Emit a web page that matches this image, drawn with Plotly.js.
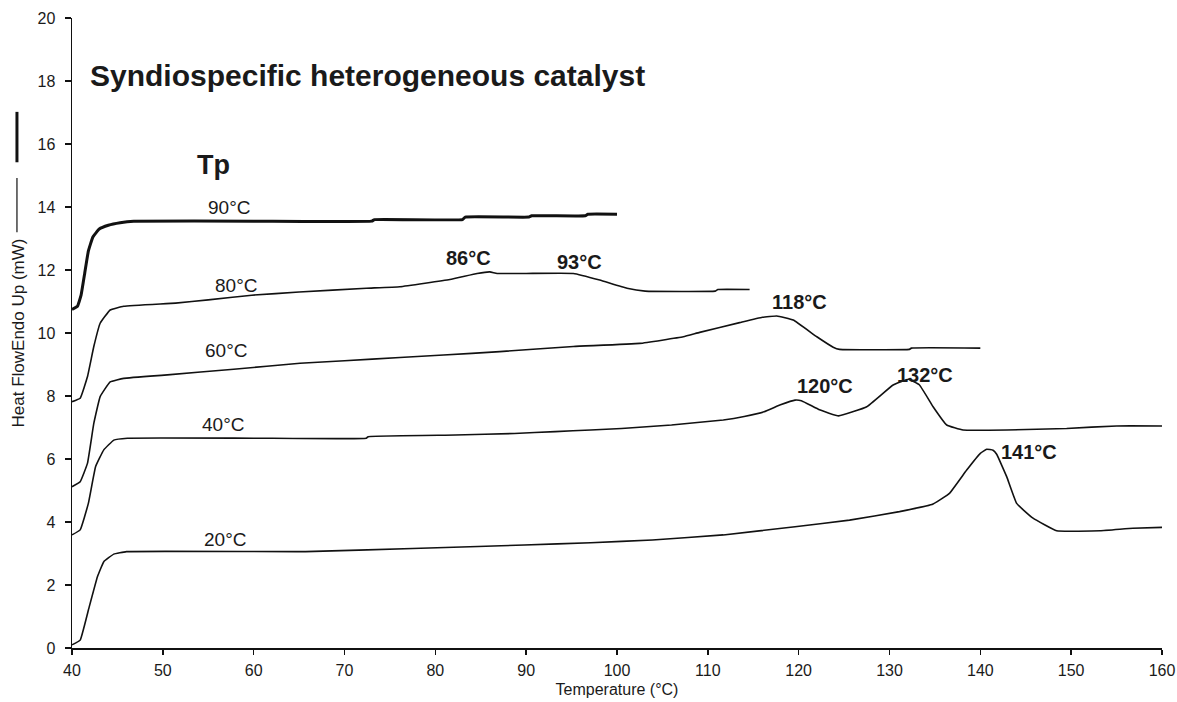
<!DOCTYPE html>
<html>
<head>
<meta charset="utf-8">
<script src="https://cdn.plot.ly/plotly-3.0.1.min.js"></script>
<style>html,body{margin:0;padding:0;background:#fff;}#chart{width:1177px;height:702px;}</style>
</head>
<body>
<div id="chart"></div>
<script>
// Tp = 90°C
const t90_x = [40, 40.6, 41.0, 41.4, 41.8, 42.3, 43.0, 44.0, 45.3, 46.8, 60, 73, 73.3, 83, 83.3, 90.3, 90.6, 96.5, 96.8, 100];
const t90_y = [10.75, 10.85, 11.2, 11.9, 12.6, 13.05, 13.3, 13.42, 13.5, 13.55, 13.55, 13.55, 13.6, 13.6, 13.68, 13.68, 13.72, 13.72, 13.77, 13.77];
// Tp = 80°C
const t80_x = [40, 40.9, 41.7, 42.4, 43.1, 44.2, 45.7, 51.4, 55, 59.8, 65, 72.4, 76.1, 81.6, 84.6, 86.0, 86.8, 90, 95.2, 98.1, 101.1, 103.1, 110.8, 111.1, 114.6];
const t80_y = [7.82, 7.93, 8.61, 9.57, 10.31, 10.73, 10.85, 10.95, 11.05, 11.2, 11.3, 11.42, 11.47, 11.7, 11.89, 11.94, 11.89, 11.89, 11.89, 11.68, 11.42, 11.33, 11.33, 11.38, 11.38];
// Tp = 60°C
const t60_x = [40, 40.9, 41.7, 42.4, 43.1, 44.2, 45.7, 50.5, 57.8, 65.1, 70, 76.1, 80.9, 87.1, 95.2, 102.5, 107.3, 109.1, 113.5, 116, 117.6, 119.4, 122, 123.8, 124.5, 132.2, 132.4, 140];
const t60_y = [5.12, 5.28, 5.86, 7.13, 7.98, 8.45, 8.56, 8.67, 8.85, 9.04, 9.12, 9.22, 9.3, 9.41, 9.57, 9.67, 9.88, 10.02, 10.33, 10.5, 10.54, 10.41, 9.88, 9.55, 9.48, 9.48, 9.52, 9.52];
// Tp = 40°C
const t40_x = [40, 40.9, 41.8, 42.6, 43.5, 44.6, 46.1, 60, 72.4, 72.6, 82.2, 88.7, 93.2, 97.1, 100.5, 106, 111.7, 114, 116.2, 118, 119.6, 120.3, 122.3, 124.4, 127.5, 130.4, 132.1, 133.3, 134.8, 136.3, 138.1, 142.9, 149.5, 155, 160];
const t40_y = [3.59, 3.75, 4.59, 5.76, 6.29, 6.6, 6.66, 6.66, 6.66, 6.71, 6.76, 6.81, 6.87, 6.92, 6.97, 7.08, 7.24, 7.35, 7.5, 7.72, 7.87, 7.85, 7.56, 7.37, 7.66, 8.35, 8.53, 8.35, 7.66, 7.08, 6.92, 6.92, 6.97, 7.05, 7.05];
// Tp = 20°C
const t20_x = [40, 40.9, 41.8, 42.8, 43.5, 44.6, 46, 65.7, 77.5, 84.7, 89.8, 97.1, 103.9, 111.7, 119.6, 125.6, 131.1, 134.8, 136.6, 138.5, 140, 140.7, 141.4, 141.8, 142.9, 144, 145.8, 148.4, 153.2, 156.8, 160];
const t20_y = [0.1, 0.25, 1.2, 2.26, 2.74, 2.98, 3.06, 3.06, 3.16, 3.22, 3.27, 3.34, 3.43, 3.59, 3.85, 4.06, 4.33, 4.57, 4.91, 5.65, 6.18, 6.31, 6.28, 6.15, 5.44, 4.59, 4.12, 3.72, 3.72, 3.8, 3.83];

// curve labels (Tp values)
const tpLabels = ["90°C", "80°C", "60°C", "40°C", "20°C"];
const tpLabelX = [57.3, 58.0, 56.9, 56.6, 56.8];
const tpLabelY = [13.97, 11.52, 9.46, 7.08, 3.46];

// peak labels
const peakLabels = ["86°C", "93°C", "118°C", "120°C", "132°C", "141°C"];
const peakX = [83.6, 95.9, 120.1, 122.9, 133.9, 145.4];
const peakY = [12.38, 12.25, 10.98, 8.32, 8.67, 6.22];

const FONT = "Liberation Sans, Arial, sans-serif";
const lineColor = "#111111";

function tr(x, y, w, name) {
  return {x: x, y: y, type: "scatter", mode: "lines", name: name,
    line: {color: lineColor, width: w, shape: "spline", smoothing: 0.3},
    hoverinfo: "x+y", showlegend: false};
}

const data = [
  tr(t90_x, t90_y, 3, "90°C"),
  tr(t80_x, t80_y, 1.6, "80°C"),
  tr(t60_x, t60_y, 1.6, "60°C"),
  tr(t40_x, t40_y, 1.6, "40°C"),
  tr(t20_x, t20_y, 1.6, "20°C")
];

const annotations = [];
annotations.push({x: 41.8, y: 18.16, xref: "x", yref: "y", text: "<b>Syndiospecific heterogeneous catalyst</b>",
  showarrow: false, xanchor: "left", yanchor: "middle", font: {family: FONT, size: 30, color: "#1a1a1a"}});
annotations.push({x: 53.5, y: 15.33, xref: "x", yref: "y", text: "<b>Tp</b>",
  showarrow: false, xanchor: "left", yanchor: "middle", font: {family: FONT, size: 27, color: "#1a1a1a"}});
for (let i = 0; i < tpLabels.length; i++) {
  annotations.push({x: tpLabelX[i], y: tpLabelY[i], xref: "x", yref: "y", text: tpLabels[i],
    showarrow: false, xanchor: "center", yanchor: "middle", font: {family: FONT, size: 19, color: "#1a1a1a"}});
}
for (let i = 0; i < peakLabels.length; i++) {
  annotations.push({x: peakX[i], y: peakY[i], xref: "x", yref: "y", text: "<b>" + peakLabels[i] + "</b>",
    showarrow: false, xanchor: "center", yanchor: "middle", font: {family: FONT, size: 20, color: "#1a1a1a"}});
}

const layout = {
  width: 1177, height: 702,
  paper_bgcolor: "#ffffff", plot_bgcolor: "#ffffff",
  margin: {l: 72, r: 15, t: 18, b: 54},
  font: {family: FONT, color: "#1a1a1a"},
  xaxis: {
    range: [40, 160], tickmode: "linear", tick0: 40, dtick: 10,
    showgrid: false, zeroline: false, showline: true, linecolor: "#111", linewidth: 1.5,
    ticks: "outside", ticklen: 5, tickcolor: "#111", tickwidth: 1.5,
    tickfont: {family: FONT, size: 16, color: "#1a1a1a"}, ticklabelstandoff: 2,
    title: {text: "Temperature (°C)", font: {family: FONT, size: 16, color: "#1a1a1a"}, standoff: 6}
  },
  yaxis: {
    range: [0, 20], tickmode: "linear", tick0: 0, dtick: 2,
    showgrid: false, zeroline: false, showline: true, linecolor: "#111", linewidth: 1.5,
    ticks: "outside", ticklen: 6, tickcolor: "#111", tickwidth: 1.5,
    tickfont: {family: FONT, size: 16, color: "#1a1a1a"}, ticklabelstandoff: 6,
    title: {text: "Heat FlowEndo Up (mW)", font: {family: FONT, size: 17, color: "#1a1a1a"}, standoff: 8}
  },
  annotations: annotations,
  shapes: [
    {type: "line", xref: "paper", yref: "paper", x0: -0.0505, x1: -0.0505, y0: 0.771, y1: 0.851, line: {color: "#111", width: 3}},
    {type: "line", xref: "paper", yref: "paper", x0: -0.0505, x1: -0.0505, y0: 0.660, y1: 0.746, line: {color: "#111", width: 1.2}}
  ]
};

Plotly.newPlot("chart", data, layout, {displayModeBar: false, staticPlot: true});
</script>
</body>
</html>
